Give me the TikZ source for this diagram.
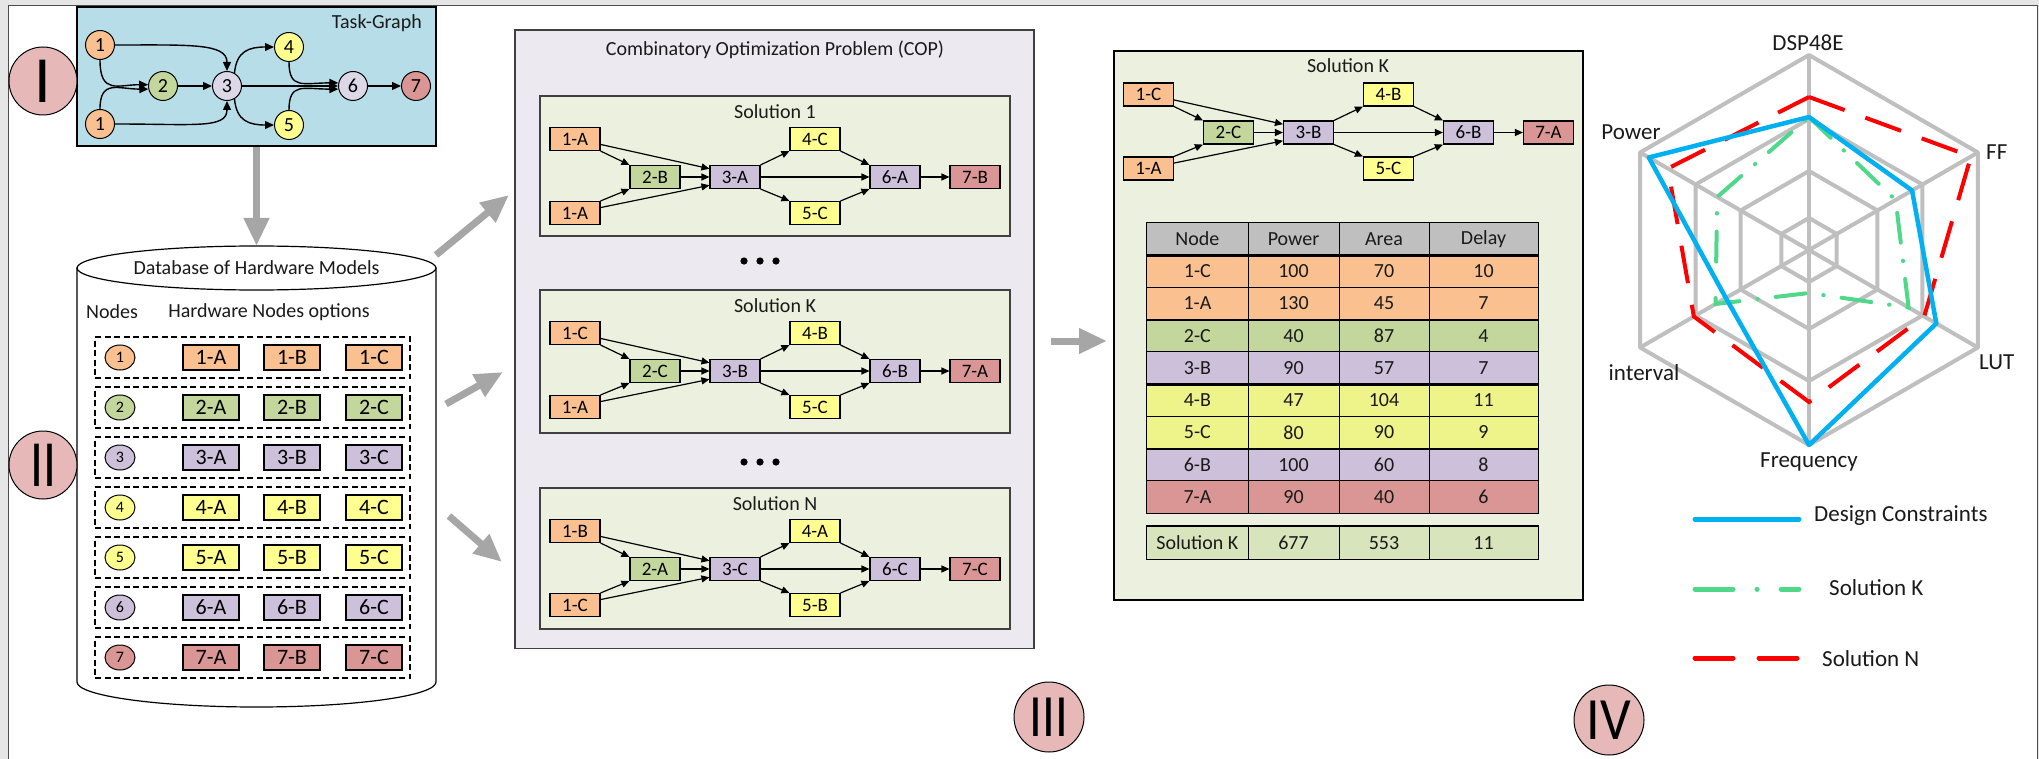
\documentclass[tikz,border=0pt]{standalone}
\usepackage{fontspec}
\setmainfont{Carlito}
\usetikzlibrary{arrows.meta,shapes.geometric}
\newcommand\fz[1]{\fontsize{#1}{#1}\selectfont}
\definecolor{cOr}{HTML}{FAC090}
\definecolor{cGr}{HTML}{C3D69B}
\definecolor{cLv}{HTML}{CCC0DA}
\definecolor{cLl}{HTML}{DDD8E8}
\definecolor{cYe}{HTML}{FFFF8F}
\definecolor{cTy}{HTML}{EEF38A}
\definecolor{cRd}{HTML}{DA9694}
\definecolor{cTg}{HTML}{B7DEE8}
\definecolor{cCop}{HTML}{ECE9F1}
\definecolor{cSol}{HTML}{EBF1DE}
\definecolor{cPk}{HTML}{E6B9B8}
\definecolor{cGa}{HTML}{A6A6A6}
\definecolor{cGrid}{HTML}{BFBFBF}
\definecolor{cHd}{HTML}{BFBFBF}
\definecolor{cSum}{HTML}{D8E4BC}
\definecolor{cBg}{HTML}{E6E6E6}
\definecolor{cBlu}{HTML}{00B0F0}
\definecolor{cGrn}{HTML}{4FD88A}
\definecolor{cTxt}{HTML}{1A1A1A}
\tikzset{
  tgc/.style={circle,draw=black,line width=1,minimum size=29,inner sep=0,font=\fz{20}},
  tge/.style={line width=1.4,-{Triangle[length=9pt,width=8pt]}},
  hw/.style={rectangle,draw=black,line width=1.1,minimum width=50,minimum height=23,inner sep=0,font=\fz{19}},
  ea/.style={line width=1.2,-{Triangle[length=8pt,width=7pt]}},
  dbb/.style={rectangle,draw=black,line width=1.2,minimum width=56,minimum height=25,inner sep=0,font=\fz{22}},
  dbe/.style={ellipse,draw=black,line width=1,minimum width=30,minimum height=25,inner sep=0,font=\fz{16}},
  dbrow/.style={rectangle,draw=black,line width=1.2,dash pattern=on 6pt off 3.5pt,minimum width=315,minimum height=41,inner sep=0},
  garrow/.style={draw=cGa,line width=7pt,-{Triangle[width=24pt,length=28pt]}},
  solbox/.style={rectangle,draw=black!75,line width=1.3,fill=cSol,minimum width=470,inner sep=0},
  lbl/.style={inner sep=0,font=\fz{20},text=cTxt},
  rlbl/.style={inner sep=0,font=\fz{23},text=cTxt},
  tc/.style={rectangle,draw=black,line width=1,minimum height=32.25,inner sep=0,font=\fz{20},text=cTxt},
  roman/.style={draw=black,line width=1,fill=cPk,inner sep=0},
  gridl/.style={draw=cGrid,line width=4,line join=round},
  redd/.style={draw=red,line width=4,dash pattern=on 38pt off 22pt},
  grnd/.style={draw=cGrn,line width=4,line cap=round,dash pattern=on 30pt off 18pt on 0.5pt off 18pt},
  blu/.style={draw=cBlu,line width=4.5,line join=round},
}
\newcommand\solgraph[9]{%
  \node[hw,fill=cOr] (#1a) at (0,43) {#2};
  \node[hw,fill=cOr] (#1b) at (0,117) {#3};
  \node[hw,fill=cGr] (#1c) at (80,81) {#4};
  \node[hw,fill=cLv] (#1d) at (160,81) {#5};
  \node[hw,fill=cYe] (#1e) at (240,43) {#6};
  \node[hw,fill=cYe] (#1f) at (240,117) {#7};
  \node[hw,fill=cLv] (#1g) at (320,81) {#8};
  \node[hw,fill=cRd] (#1h) at (400,81) {#9};
  \draw[ea] (#1a.south east) -- (#1c.north west);
  \draw[ea] (#1a.-12) -- (#1d.162);
  \draw[ea] (#1b.north east) -- (#1c.south west);
  \draw[ea] (#1b.12) -- (#1d.198);
  \draw[ea] (#1c.east) -- (#1d.west);
  \draw[ea] (#1d.north east) -- (#1e.south west);
  \draw[ea] (#1d.south east) -- (#1f.north west);
  \draw[ea] (#1d.east) -- (#1g.west);
  \draw[ea] (#1e.south east) -- (#1g.north west);
  \draw[ea] (#1f.north east) -- (#1g.south west);
  \draw[ea] (#1g.east) -- (#1h.west);
}
\newcommand\trow[7]{%
  \node[tc,fill=#3,minimum width=101.3] (#1-1) at (1197.4,#2) {#4};
  \node[tc,fill=#3,minimum width=91] (#1-2) at (1293.5,#2) {#5};
  \node[tc,fill=#3,minimum width=90] (#1-3) at (1384,#2) {#6};
  \node[tc,fill=#3,minimum width=109] (#1-4) at (1483.5,#2) {#7};
}
\begin{document}
\begin{tikzpicture}[x=1pt,y=-1pt]
\useasboundingbox (0,0) rectangle (2039,759);
\fill[cBg] (0,0) rectangle (2039,759);
\draw[fill=white,draw=black!70,line width=1.2] (8.5,5.5) rectangle (2037.5,775);

% ---------- I : task graph ----------
\node[draw=black,line width=1.2,fill=cTg,minimum width=359,minimum height=139,inner sep=0] (tg) at (256.5,76.5) {};
\node[lbl,anchor=east] (tgt) at (422,23) {Task-Graph};
\node[tgc,fill=cOr] (t1a) at (100,45) {1};
\node[tgc,fill=cOr] (t1b) at (100,124) {1};
\node[tgc,fill=cGr] (t2) at (163,86) {2};
\node[tgc,fill=cLl] (t3) at (227,86) {3};
\node[tgc,fill=cYe] (t4) at (289,47) {4};
\node[tgc,fill=cYe] (t5) at (289,125) {5};
\node[tgc,fill=cLl] (t6) at (353,86) {6};
\node[tgc,fill=cRd] (t7) at (416,86) {7};
\draw[tge] (t1a.east) .. controls +(75,0) and +(0,-28) .. (t3.north);
\draw[tge] (t1a.south) .. controls +(0,35) and +(-30,0) .. (t2.175);
\draw[tge] (t1b.north) .. controls +(0,-30) and +(-30,0) .. (t2.192);
\draw[tge] (t1b.east) .. controls +(80,0) and +(0,28) .. (t3.south);
\draw[tge] (t2.east) -- (t3.west);
\draw[tge] (t3.60) .. controls +(2,-22) and +(-25,0) .. (t4.west);
\draw[tge] (t3.-60) .. controls +(2,22) and +(-25,0) .. (t5.west);
\draw[tge] (t3.east) -- (t6.west);
\draw[tge] (t4.south) .. controls +(0,28) and +(-35,0) .. (t6.168);
\draw[tge] (t5.north) .. controls +(0,-28) and +(-35,0) .. (t6.192);
\draw[tge] (t6.east) -- (t7.west);
\node[roman,circle,minimum size=68,font=\fz{66}] (rI) at (43,81) {I};

% ---------- II : database ----------
\coordinate (dbtop) at (256.5,246);
\draw[garrow] (tg.south) -- (dbtop);
\draw[fill=white,line width=1.2] (77,268) -- (77,682) arc[start angle=180,end angle=360,x radius=179.5pt,y radius=25pt] -- (436,268) -- cycle;
\draw[fill=white,line width=1.2] (256.5,268) ellipse [x radius=179.5pt,y radius=22pt];
\node[lbl] (dbt) at (256.5,268) {Database of Hardware Models};
\node[lbl] (dbn) at (112,312) {Nodes};
\node[lbl] (dbh) at (269,312) {Hardware Nodes options};
\foreach \i/\c in {1/cOr,2/cGr,3/cLv,4/cYe,5/cYe,6/cLv,7/cRd}{
  \node[dbrow] (dbr\i) at (252.5,{357.5+50*(\i-1)}) {};
  \node[dbe,fill=\c] (dbe\i) at (120,{357.5+50*(\i-1)}) {\i};
  \node[dbb,fill=\c] (db\i A) at (211,{357.5+50*(\i-1)}) {\i-A};
  \node[dbb,fill=\c] (db\i B) at (292,{357.5+50*(\i-1)}) {\i-B};
  \node[dbb,fill=\c] (db\i C) at (374,{357.5+50*(\i-1)}) {\i-C};
}
\node[roman,circle,minimum size=68,font=\fz{66}] (rII) at (43,465) {\scalebox{0.78}[1]{II}};

% ---------- III : COP ----------
\node[rectangle,draw=black!75,line width=1.5,fill=cCop,minimum width=519,minimum height=618.5,inner sep=0] (cop) at (774.5,339.25) {};
\node[lbl] (copt) at (775,50) {Combinatory Optimization Problem (COP)};
\node[solbox,minimum height=140] (s1box) at (775,166) {};
\node[solbox,minimum height=143] (s2box) at (775,361.5) {};
\node[solbox,minimum height=141] (s3box) at (775,558.5) {};
\node[lbl] (s1t) at (775,112) {Solution 1};
\node[lbl] (s2t) at (775,306) {Solution K};
\node[lbl] (s3t) at (775,504) {Solution N};
\begin{scope}[shift={(575,96)}]\solgraph{sa}{1-A}{1-A}{2-B}{3-A}{4-C}{5-C}{6-A}{7-B}\end{scope}
\begin{scope}[shift={(575,290)}]\solgraph{sb}{1-C}{1-A}{2-C}{3-B}{4-B}{5-C}{6-B}{7-A}\end{scope}
\begin{scope}[shift={(575,488)}]\solgraph{sc}{1-B}{1-C}{2-A}{3-C}{4-A}{5-B}{6-C}{7-C}\end{scope}
\foreach \yy in {261,462}{
  \foreach \xx in {744,760,776} \fill[black] (\xx,\yy) circle[radius=3.6pt];
}
\coordinate (a1s) at (436,255); \coordinate (a1e) at (509,195);
\coordinate (a2s) at (446,404); \coordinate (a2e) at (503,372);
\coordinate (a3s) at (449,516); \coordinate (a3e) at (502,562);
\draw[garrow] (a1s) -- (a1e);
\draw[garrow] (a2s) -- (a2e);
\draw[garrow] (a3s) -- (a3e);
\node[roman,circle,minimum size=70,font=\fz{60}] (rIII) at (1049,717) {\scalebox{0.85}[1]{III}};

% ---------- Solution K panel ----------
\coordinate (a4s) at (1051,341); \coordinate (a4e) at (1107,341);
\draw[garrow] (a4s) -- (a4e);
\node[rectangle,draw=black,line width=2,fill=cSol,minimum width=469,minimum height=549,inner sep=0] (skp) at (1348.5,325.5) {};
\node[lbl] (skt) at (1348,66) {Solution K};
\begin{scope}[shift={(1148.5,51.5)}]\solgraph{sd}{1-C}{1-A}{2-C}{3-B}{4-B}{5-C}{6-B}{7-A}\end{scope}
\trow{th}{239}{cHd}{Node}{Power}{Area}{Delay}
\trow{ta}{271.1}{cOr}{1-C}{100}{70}{10}
\trow{tb}{303.4}{cOr}{1-A}{130}{45}{7}
\trow{tc}{335.6}{cGr}{2-C}{40}{87}{4}
\trow{td}{367.9}{cLv}{3-B}{90}{57}{7}
\trow{te}{400.1}{cTy}{4-B}{47}{104}{11}
\trow{tf}{432.4}{cTy}{5-C}{80}{90}{9}
\trow{tg}{464.6}{cLv}{6-B}{100}{60}{8}
\trow{thh}{496.9}{cRd}{7-A}{90}{40}{6}
\trow{ts}{543}{cSum}{Solution K}{677}{553}{11}
\draw[line width=2.2] (th-1.south west) -- (th-4.south east);
\draw[line width=2.2] (tb-1.south west) -- (tb-4.south east);
\draw[line width=2.2] (td-1.south west) -- (td-4.south east);
\draw[line width=2.2] (tf-1.south west) -- (tf-4.south east);
\draw[line width=2.2] (ts-1.north west) -- (ts-4.north east);

% ---------- IV : radar ----------
\begin{scope}[shift={(1809,250)},x=1pt,y=1pt]
  \foreach \r in {32,79,131,195}
    \draw[gridl] (90:\r) -- (30:\r) -- (-30:\r) -- (-90:\r) -- (-150:\r) -- (150:\r) -- cycle;
  \foreach \a in {90,30,-30,-90,-150,150}
    \draw[gridl] (0,0) -- (\a:195);
  \draw[redd] (90:153) -- (30:187) -- (-30:133) -- (-90:152) -- (-150:133) -- (150:163) -- cycle;
  \draw[grnd] (90:133) -- (30:100) -- (-30:115) -- (-90:43) -- (-150:108) -- (150:106) -- cycle;
  \draw[blu] (90:133) -- (30:119) -- (-30:147) -- (-90:195) -- (-150:96) -- (150:185) -- cycle;
\end{scope}
\node[rlbl] (ax1) at (1808,43) {DSP48E};
\node[rlbl,anchor=west] (ax2) at (1986,152) {FF};
\node[rlbl,anchor=west] (ax3) at (1979,362) {LUT};
\node[rlbl] (ax4) at (1809,462) {Frequency};
\node[rlbl] (ax5) at (1644,373) {interval};
\node[rlbl] (ax6) at (1631,132) {Power};
\draw[draw=cBlu,line width=5,line cap=round] (1695,519) -- (1799,519);
\draw[draw=cGrn,line width=5,line cap=round,dash pattern=on 38pt off 24pt on 0.1pt off 24pt] (1695,589) -- (1799,589);
\draw[draw=red,line width=5,line cap=round,dash pattern=on 38pt off 26pt] (1695,658) -- (1797,658);
\node[rlbl,anchor=west] (lg1) at (1814,516) {Design Constraints};
\node[rlbl,anchor=west] (lg2) at (1829,588) {Solution K};
\node[rlbl,anchor=west] (lg3) at (1822,659) {Solution N};
\node[roman,circle,minimum size=70,font=\fz{60}] (rIV) at (1609,720) {\scalebox{0.9}[1]{IV}};
\end{tikzpicture}
\end{document}
